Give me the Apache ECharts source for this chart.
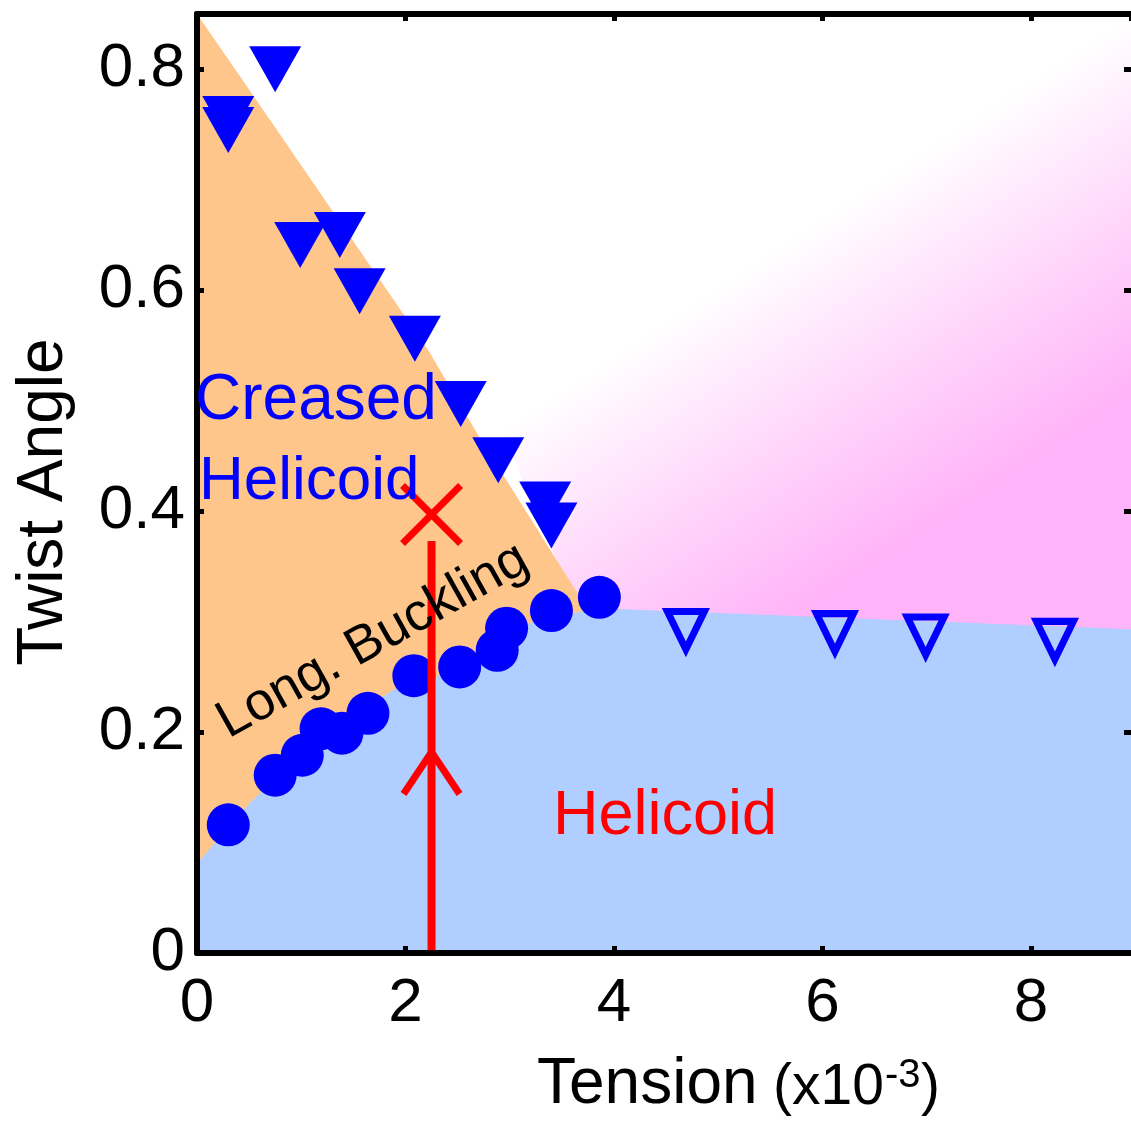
<!DOCTYPE html>
<html>
<head>
<meta charset="utf-8">
<script src="https://cdn.jsdelivr.net/npm/echarts@6/dist/echarts.min.js"></script>
<style>
html,body{margin:0;padding:0;background:#fff;}
#chart{width:1131px;height:1123px;}
</style>
</head>
<body>
<div id="chart"></div>
<script>
// ---- data ----
const xTicks = [0, 2, 4, 6, 8];
const yTicks = [0, 0.2, 0.4, 0.6, 0.8];
const X_MAX = 8.96;
const Y_MAX = 0.85;

// filled down-triangles (creased helicoid onset)
const creasedX = [0.75, 0.30, 0.30, 0.99, 1.37, 1.56, 2.09, 2.53, 2.89, 3.34, 3.40];
const creasedY = [0.800, 0.755, 0.745, 0.641, 0.650, 0.599, 0.556, 0.497, 0.446, 0.406, 0.387];

// open down-triangles
const openX = [4.69, 6.12, 6.99, 8.23];
const openY = [0.292, 0.290, 0.287, 0.283];

// circles (longitudinal buckling)
const buckX = [0.30, 0.75, 1.01, 1.19, 1.39, 1.64, 2.08, 2.52, 2.88, 2.97, 3.40, 3.86];
const buckY = [0.116, 0.161, 0.179, 0.203, 0.199, 0.217, 0.251, 0.259, 0.274, 0.294, 0.310, 0.322];

// region boundaries
const orangeEdgeX = [0, 0.556, 1.305, 2.216, 2.715, 3.722, 3.90, 0];
const orangeEdgeY = [0.85, 0.774, 0.671, 0.546, 0.466, 0.315, 0.29, 0];
const blueEdgeX = [0, 0.53, 1.2, 1.88, 2.3, 2.8, 3.2, 3.63, 3.85, 8.96];
const blueEdgeY = [0.081, 0.138, 0.195, 0.238, 0.250, 0.280, 0.299, 0.308, 0.312, 0.293];
const pinkEdgeX = [2.954, 8.95, 8.96, 8.96, 3.85, 3.624, 3.233];
const pinkEdgeY = [0.473, 0.85, 0.85, 0.28, 0.29, 0.323, 0.398];

// red path: X mark, and arrow line
const crossPoint = [2.25, 0.397];
const arrowX = 2.25;
const arrowY = [0.0, 0.373];
const arrowHeadY = 0.182;

const FONT = "'Liberation Sans', Arial, Helvetica, sans-serif";
const BLUE = '#0000FF';
const RED = '#FF0000';

function zip(xs, ys) { return xs.map((x, i) => [x, ys[i]]); }

function polygonSeries(xs, ys, fillFn, z) {
  return {
    type: 'custom', z: z, silent: true, clip: false,
    data: [0],
    renderItem: function (params, api) {
      const pts = xs.map((x, i) => api.coord([x, ys[i]]));
      return { type: 'polygon', shape: { points: pts }, style: { fill: fillFn(api), stroke: null } };
    }
  };
}

const blueBelowX = blueEdgeX.concat([X_MAX, 0]);
const blueBelowY = blueEdgeY.concat([0, 0]);

const chart = echarts.init(document.getElementById('chart'), null, { renderer: 'canvas' });

const axisCommon = {
  type: 'value',
  axisLine: { show: true, onZero: false, lineStyle: { color: '#000', width: 6 } },
  axisTick: { show: true, inside: true, length: 7, lineStyle: { color: '#000', width: 5 } },
  splitLine: { show: false },
  z: 10
};

const option = {
  animation: false,
  backgroundColor: '#fff',
  grid: { left: 197, top: 14, right: 0, bottom: 170, containLabel: false },
  xAxis: [
    Object.assign({}, axisCommon, {
      min: 0, max: X_MAX, interval: 2, position: 'bottom',
      axisLabel: { show: true, fontSize: 62, color: '#000', fontFamily: FONT, margin: 20, showMaxLabel: false,
        formatter: v => (xTicks.indexOf(v) >= 0 ? String(v) : '') }
    }),
    Object.assign({}, axisCommon, {
      min: 0, max: X_MAX, interval: 2, position: 'top',
      axisLabel: { show: false }
    })
  ],
  yAxis: [
    Object.assign({}, axisCommon, {
      min: 0, max: Y_MAX, interval: 0.2, position: 'left',
      axisLabel: { show: true, fontSize: 62, color: '#000', fontFamily: FONT, margin: 12, showMaxLabel: false,
        formatter: v => { const t = yTicks.find(k => Math.abs(k - v) < 1e-9); return t === undefined ? '' : String(t); } }
    }),
    Object.assign({}, axisCommon, {
      min: 0, max: Y_MAX, interval: 0.2, position: 'right',
      axisLine: { show: false, onZero: false },
      axisLabel: { show: false }
    })
  ],
  graphic: [
    { type: 'text', x: 44, y: 502, rotation: Math.PI / 2, z: 20,
      style: { text: 'Twist Angle', font: '64px ' + FONT, fill: '#000', align: 'center', verticalAlign: 'middle' } },
    { type: 'text', x: 537, y: 1085, z: 20,
      style: { text: 'Tension', font: '64px ' + FONT, fill: '#000', align: 'left', verticalAlign: 'middle' } },
    { type: 'text', x: 773, y: 1088, z: 20,
      style: { text: '(x10', font: '57px ' + FONT, fill: '#000', align: 'left', verticalAlign: 'middle' } },
    { type: 'text', x: 885, y: 1076, z: 20,
      style: { text: '-3', font: '40px ' + FONT, fill: '#000', align: 'left', verticalAlign: 'middle' } },
    { type: 'text', x: 921, y: 1088, z: 20,
      style: { text: ')', font: '57px ' + FONT, fill: '#000', align: 'left', verticalAlign: 'middle' } },
    { type: 'text', x: 195, y: 401, z: 20,
      style: { text: 'Creased', font: '64px ' + FONT, fill: BLUE, align: 'left', verticalAlign: 'middle' } },
    { type: 'text', x: 199, y: 482, z: 20,
      style: { text: 'Helicoid', font: '62px ' + FONT, fill: BLUE, align: 'left', verticalAlign: 'middle' } },
    { type: 'text', x: 373, y: 641, rotation: 29.3 * Math.PI / 180, z: 20,
      style: { text: 'Long. Buckling', font: '53px ' + FONT, fill: '#000', align: 'center', verticalAlign: 'middle' } },
    { type: 'text', x: 553, y: 817, z: 20,
      style: { text: 'Helicoid', font: '63px ' + FONT, fill: RED, align: 'left', verticalAlign: 'middle' } }
  ],
  series: [
    polygonSeries(pinkEdgeX, pinkEdgeY, function (api) {
      const p1 = api.coord([1.458, 0.384]);
      const p2 = api.coord([3.137, 0.143]);
      return new echarts.graphic.LinearGradient(p1[0], p1[1], p2[0], p2[1], [
        { offset: 0, color: '#FFFFFF' },
        { offset: 0.5, color: '#FFD8FB' },
        { offset: 1, color: '#FFB3F8' }
      ], true);
    }, 1),
    polygonSeries(orangeEdgeX, orangeEdgeY, () => '#FFC68C', 1),
    polygonSeries(blueBelowX, blueBelowY, () => '#B0CEFF', 1),
    {
      type: 'scatter', z: 4, silent: true,
      data: zip(buckX, buckY),
      symbol: 'circle', symbolSize: 43,
      itemStyle: { color: BLUE, opacity: 1 }
    },
    {
      type: 'scatter', z: 4, silent: true,
      data: zip(creasedX, creasedY),
      symbol: 'triangle', symbolRotate: 180, symbolSize: [52, 46],
      itemStyle: { color: BLUE, opacity: 1 }
    },
    {
      type: 'scatter', z: 4, silent: true,
      data: zip(openX, openY),
      symbol: 'triangle', symbolRotate: 180, symbolSize: [37, 38],
      itemStyle: { color: 'rgba(0,0,0,0)', borderColor: BLUE, borderWidth: 7, opacity: 1 }
    },
    {
      type: 'custom', z: 5, silent: true, clip: false,
      data: [crossPoint],
      renderItem: function (params, api) {
        const c = api.coord([api.value(0), api.value(1)]);
        const d = 29;
        const st = { stroke: RED, lineWidth: 7, fill: null };
        return { type: 'group', children: [
          { type: 'line', shape: { x1: c[0] - d, y1: c[1] - d, x2: c[0] + d, y2: c[1] + d }, style: st },
          { type: 'line', shape: { x1: c[0] - d, y1: c[1] + d, x2: c[0] + d, y2: c[1] - d }, style: st }
        ] };
      }
    },
    {
      type: 'custom', z: 5, silent: true, clip: false,
      data: [[arrowX, arrowY[0], arrowY[1], arrowHeadY]],
      renderItem: function (params, api) {
        const b = api.coord([api.value(0), api.value(1)]);
        const t = api.coord([api.value(0), api.value(2)]);
        const h = api.coord([api.value(0), api.value(3)]);
        const st = { stroke: RED, lineWidth: 8, fill: null };
        const st2 = { stroke: RED, lineWidth: 7, fill: null };
        return { type: 'group', children: [
          { type: 'line', shape: { x1: b[0], y1: b[1], x2: t[0], y2: t[1] }, style: st },
          { type: 'polyline', shape: { points: [[h[0] - 28, h[1] + 42], [h[0], h[1]], [h[0] + 28, h[1] + 42]] }, style: st2 }
        ] };
      }
    }
  ]
};
chart.setOption(option);
</script>
</body>
</html>
